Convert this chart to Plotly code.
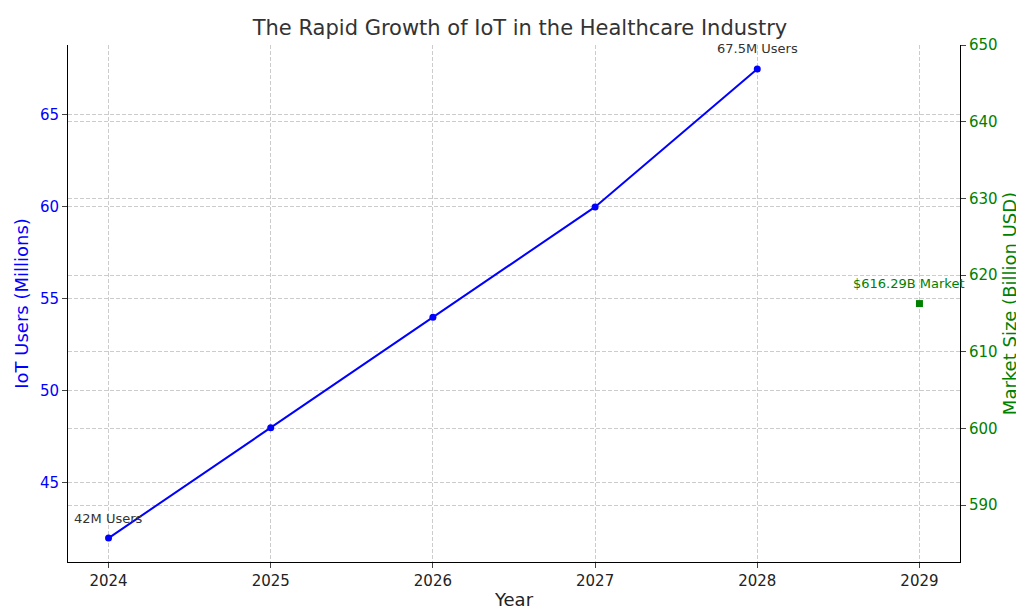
import plotly.graph_objects as go

years = [2024, 2025, 2026, 2027, 2028]
users = [42, 48, 54, 60, 67.5]
market_year = [2029]
market_size = [616.29]

fig = go.Figure()
fig.add_trace(go.Scatter(x=years, y=users, mode="lines+markers", line=dict(color="blue", width=2),
                         marker=dict(color="blue", size=7), name="IoT Users"))
fig.add_trace(go.Scatter(x=market_year, y=market_size, mode="markers", yaxis="y2",
                         marker=dict(color="green", size=7, symbol="square"), name="Market"))

fig.add_annotation(x=years[0], y=users[0], text="42M Users", showarrow=False, yshift=20,
                   font=dict(color="#333", size=13))
fig.add_annotation(x=years[-1], y=users[-1], text="67.5M Users", showarrow=False, yshift=20,
                   font=dict(color="#333", size=13))
fig.add_annotation(x=market_year[0], y=market_size[0], yref="y2", text="$616.29B Market",
                   showarrow=False, yshift=20, xshift=-10, font=dict(color="green", size=13))

grid = dict(showgrid=True, gridcolor="#cccccc", griddash="4px,2px", gridwidth=1)
fig.update_layout(
    width=1024, height=610, plot_bgcolor="white", paper_bgcolor="white",
    font=dict(family="DejaVu Sans", size=15, color="#222"),
    title=dict(text="The Rapid Growth of IoT in the Healthcare Industry", x=0.5, xanchor="center",
               y=1 - 20 / 610, yanchor="middle", yref="container", font=dict(size=21, color="#333")),
    margin=dict(l=60, r=72, t=37, b=56), showlegend=False,
    xaxis=dict(range=[2023.75, 2029.25], tickvals=[2024, 2025, 2026, 2027, 2028, 2029], automargin=False,
               title=dict(text="Year", standoff=4), ticks="outside", showline=True,
               linecolor="black", **grid),
    yaxis=dict(range=[40.7, 68.8], tickvals=[45, 50, 55, 60, 65], ticks="outside", automargin=False,
               title=dict(text="IoT Users (Millions)", font=dict(color="blue"), standoff=6),
               tickfont=dict(color="blue"), showline=True, linecolor="black", zeroline=False, **grid),
    yaxis2=dict(range=[582.6, 650], tickvals=[590, 600, 610, 620, 630, 640, 650], overlaying="y",
                side="right", ticks="outside", automargin=False,
                title=dict(text="Market Size (Billion USD)", font=dict(color="green"), standoff=6),
                tickfont=dict(color="green"), showline=True, linecolor="black", zeroline=False, **grid),
)
fig.write_html("out.html")
